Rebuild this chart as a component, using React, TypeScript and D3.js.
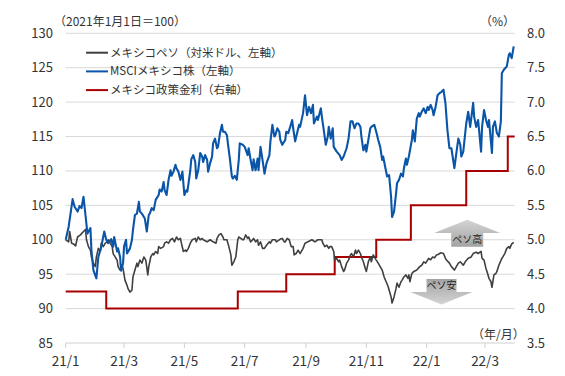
import React from "react";
import * as d3 from "d3";

// メキシコペソ（対米ドル）指数 2021/1/1=100
const pesoSeries: [string, number][] = [
  ["2021-01-01",100],["2021-01-04",99.7],["2021-01-05",101.2],["2021-01-07",99.5],["2021-01-09",99.4],["2021-01-11",99.1],
  ["2021-01-13",100.4],["2021-01-16",100.7],["2021-01-17",100.9],["2021-01-19",101.2],["2021-01-21",101.5],["2021-01-22",100],
  ["2021-01-24",99.0],["2021-01-26",98.5],["2021-01-27",97.5],["2021-01-29",96.6],["2021-01-31",96.1],["2021-02-01",97.5],
  ["2021-02-03",98.75],["2021-02-05",98.3],["2021-02-06",99.5],["2021-02-08",99.0],["2021-02-10",99.5],["2021-02-12",99.7],
  ["2021-02-13",100],["2021-02-15",99.5],["2021-02-17",99.0],["2021-02-18",98.0],["2021-02-20",97.5],["2021-02-22",97.05],
  ["2021-02-23",96.1],["2021-02-25",95.6],["2021-02-27",96.3],["2021-02-28",95.8],["2021-03-02",94.1],["2021-03-04",93.4],
  ["2021-03-05",92.9],["2021-03-07",92.4],["2021-03-09",92.7],["2021-03-10",94.6],["2021-03-12",95.6],["2021-03-14",96.6],
  ["2021-03-15",96.1],["2021-03-17",97.05],["2021-03-19",96.6],["2021-03-21",97.5],["2021-03-23",97.05],["2021-03-25",94.9],
  ["2021-03-26",96.1],["2021-03-28",97.5],["2021-03-30",98.0],["2021-03-31",97.8],["2021-04-02",98.3],["2021-04-04",98.0],
  ["2021-04-05",99.0],["2021-04-07",98.75],["2021-04-10",99.0],["2021-04-11",99.5],["2021-04-13",99.7],["2021-04-15",99.5],
  ["2021-04-17",100],["2021-04-19",100.2],["2021-04-21",99.7],["2021-04-23",100.4],["2021-04-25",100],["2021-04-27",100.2],
  ["2021-04-28",99.5],["2021-04-30",98.3],["2021-05-02",98.5],["2021-05-03",98.3],["2021-05-05",98.75],["2021-05-07",99.5],
  ["2021-05-09",100],["2021-05-12",100.2],["2021-05-13",99.7],["2021-05-15",100.4],["2021-05-17",100],["2021-05-19",100.2],
  ["2021-05-20",100],["2021-05-24",99.7],["2021-05-27",100],["2021-05-30",99.7],["2021-06-02",99.5],["2021-06-03",100.2],
  ["2021-06-05",100.7],["2021-06-07",100.9],["2021-06-09",100.4],["2021-06-10",100],["2021-06-13",100],["2021-06-15",99.0],
  ["2021-06-17",97.8],["2021-06-18",96.3],["2021-06-20",96.8],["2021-06-22",97.5],["2021-06-24",100],["2021-06-25",100.4],
  ["2021-06-27",100.2],["2021-06-29",100],["2021-06-30",100],["2021-07-02",100.7],["2021-07-04",100.2],["2021-07-05",100.4],
  ["2021-07-07",99.7],["2021-07-09",100],["2021-07-10",100.2],["2021-07-12",99.7],["2021-07-14",100],["2021-07-15",99.2],
  ["2021-07-17",99.7],["2021-07-19",98.75],["2021-07-21",98.75],["2021-07-23",99.2],["2021-07-26",99.7],["2021-07-27",99.5],
  ["2021-07-29",100],["2021-08-01",100],["2021-08-02",99.7],["2021-08-06",100.1],["2021-08-08",100.2],["2021-08-10",99.7],
  ["2021-08-11",99.7],["2021-08-13",100.2],["2021-08-15",100],["2021-08-17",99.0],["2021-08-19",99.0],["2021-08-20",97.8],
  ["2021-08-22",98.0],["2021-08-24",98.5],["2021-08-26",98.0],["2021-08-29",98.75],["2021-08-31",99.5],["2021-09-03",99.7],
  ["2021-09-07",100],["2021-09-10",99.7],["2021-09-13",100],["2021-09-17",100],["2021-09-18",99.5],["2021-09-20",99.0],
  ["2021-09-22",99.2],["2021-09-24",98.75],["2021-09-25",99.0],["2021-09-27",99.0],["2021-09-29",98.3],["2021-09-30",97.05],
  ["2021-10-02",97.3],["2021-10-04",96.8],["2021-10-05",97.05],["2021-10-07",96.1],["2021-10-09",95.4],["2021-10-10",95.6],
  ["2021-10-12",96.6],["2021-10-14",97.05],["2021-10-16",97.8],["2021-10-17",98.0],["2021-10-19",97.5],["2021-10-21",98.5],
  ["2021-10-22",98.0],["2021-10-24",98.5],["2021-10-26",98.0],["2021-10-27",97.5],["2021-10-29",96.8],["2021-10-31",95.8],
  ["2021-11-01",95.4],["2021-11-03",96.8],["2021-11-05",97.5],["2021-11-06",96.8],["2021-11-08",97.8],["2021-11-11",97.05],
  ["2021-11-13",96.6],["2021-11-15",96.1],["2021-11-17",95.6],["2021-11-19",94.6],["2021-11-21",93.9],["2021-11-23",93.2],
  ["2021-11-24",92.7],["2021-11-26",91.7],["2021-11-27",90.8],["2021-11-29",91.7],["2021-12-01",92.9],["2021-12-02",93.7],
  ["2021-12-04",93.1],["2021-12-06",93.9],["2021-12-07",94.1],["2021-12-09",94.6],["2021-12-11",94.9],["2021-12-13",94.4],
  ["2021-12-14",94.9],["2021-12-15",93.9],["2021-12-17",95.1],["2021-12-19",95.4],["2021-12-22",95.6],["2021-12-25",96.1],
  ["2021-12-27",96.3],["2021-12-29",96.8],["2021-12-31",96.6],["2022-01-03",97.3],["2022-01-05",97.1],["2022-01-07",97.5],
  ["2022-01-09",97.4],["2022-01-11",97.8],["2022-01-13",97.9],["2022-01-15",98.1],["2022-01-18",98.0],["2022-01-20",97.3],
  ["2022-01-21",97.05],["2022-01-24",96.6],["2022-01-26",96.1],["2022-01-29",95.6],["2022-01-31",96.1],["2022-02-02",96.6],
  ["2022-02-04",96.8],["2022-02-07",96.3],["2022-02-09",96.8],["2022-02-12",97.3],["2022-02-15",97.5],["2022-02-17",98.0],
  ["2022-02-20",98.2],["2022-02-22",98.0],["2022-02-25",98.3],["2022-02-26",97.3],["2022-02-28",97.05],["2022-03-02",95.8],
  ["2022-03-03",95.4],["2022-03-05",94.4],["2022-03-07",93.9],["2022-03-08",93.1],["2022-03-10",94.9],["2022-03-12",95.1],
  ["2022-03-13",95.4],["2022-03-15",96.3],["2022-03-18",97.3],["2022-03-19",97.5],["2022-03-21",98.0],["2022-03-23",98.75],
  ["2022-03-25",99.0],["2022-03-26",98.75],["2022-03-28",99.4],["2022-03-30",99.6],
];

// MSCIメキシコ株 指数 2021/1/1=100
const msciSeries: [string, number][] = [
  ["2021-01-01",100],["2021-01-04",101.9],["2021-01-08",105.9],["2021-01-10",104.8],["2021-01-13",104.1],["2021-01-15",104.9],
  ["2021-01-17",104.6],["2021-01-19",106.25],["2021-01-21",103.6],["2021-01-23",100.9],["2021-01-26",101.7],["2021-01-27",98.5],
  ["2021-01-29",95.6],["2021-02-01",94.4],["2021-02-03",97.5],["2021-02-05",98.5],["2021-02-06",99.0],["2021-02-09",101.2],
  ["2021-02-11",100],["2021-02-13",99.5],["2021-02-16",100.1],["2021-02-18",99.0],["2021-02-19",100.4],["2021-02-22",98.3],
  ["2021-02-23",98.75],["2021-02-25",97.5],["2021-02-26",95.5],["2021-02-28",96.6],["2021-03-01",99.0],["2021-03-03",100],
  ["2021-03-04",98.0],["2021-03-07",98.75],["2021-03-09",100],["2021-03-10",101.4],["2021-03-12",103.6],["2021-03-14",103.8],
  ["2021-03-16",105.5],["2021-03-17",104.1],["2021-03-19",103.8],["2021-03-22",103.1],["2021-03-24",101.2],["2021-03-26",103.6],
  ["2021-03-27",103.8],["2021-03-29",104.6],["2021-03-31",104.3],["2021-04-02",105.8],["2021-04-05",106.5],["2021-04-06",107.3],
  ["2021-04-08",107.0],["2021-04-10",108.4],["2021-04-11",107.2],["2021-04-13",106.5],["2021-04-15",108.7],["2021-04-17",110.1],
  ["2021-04-18",109.3],["2021-04-20",109.9],["2021-04-22",110.9],["2021-04-23",110.4],["2021-04-25",109.9],["2021-04-27",108.7],
  ["2021-04-29",109.9],["2021-05-01",106.5],["2021-05-03",107.2],["2021-05-04",107.0],["2021-05-07",110.1],["2021-05-08",111.7],
  ["2021-05-10",112.3],["2021-05-12",111.3],["2021-05-13",108.9],["2021-05-15",110.1],["2021-05-17",112.6],["2021-05-19",112.1],
  ["2021-05-20",111.3],["2021-05-22",112.3],["2021-05-24",111.6],["2021-05-25",109.9],["2021-05-27",111.1],["2021-05-29",112.1],
  ["2021-05-30",114.0],["2021-06-01",114.7],["2021-06-03",113.3],["2021-06-04",113.5],["2021-06-06",115.5],["2021-06-08",116.7],
  ["2021-06-09",115.7],["2021-06-11",115.7],["2021-06-13",115.2],["2021-06-14",114.0],["2021-06-16",111.8],["2021-06-18",109.2],
  ["2021-06-19",108.9],["2021-06-21",109.3],["2021-06-23",108.7],["2021-06-25",111.6],["2021-06-26",114.0],["2021-06-29",113.8],
  ["2021-07-01",113.5],["2021-07-04",112.3],["2021-07-05",113.3],["2021-07-07",111.6],["2021-07-09",110.1],["2021-07-10",111.7],
  ["2021-07-12",110.1],["2021-07-14",111.8],["2021-07-15",110.1],["2021-07-17",113.5],["2021-07-19",111.6],["2021-07-21",109.6],
  ["2021-07-23",111.1],["2021-07-26",112.3],["2021-07-27",114.3],["2021-07-29",116.7],["2021-07-31",115.0],["2021-08-01",115.2],
  ["2021-08-03",116.2],["2021-08-05",115.7],["2021-08-06",114.5],["2021-08-08",113.8],["2021-08-11",114.5],["2021-08-12",115.7],
  ["2021-08-14",115.5],["2021-08-16",116.4],["2021-08-18",117.4],["2021-08-19",116.2],["2021-08-21",114.3],["2021-08-23",115.5],
  ["2021-08-25",116.7],["2021-08-26",116.4],["2021-08-29",118.4],["2021-08-31",121.0],["2021-09-02",118.1],["2021-09-04",119.3],
  ["2021-09-06",118.4],["2021-09-08",119.6],["2021-09-09",116.9],["2021-09-12",117.9],["2021-09-13",117.4],["2021-09-16",119.1],
  ["2021-09-17",117.9],["2021-09-19",115.9],["2021-09-21",113.8],["2021-09-23",115.0],["2021-09-24",116.4],["2021-09-26",114.7],
  ["2021-09-28",116.2],["2021-09-29",113.5],["2021-10-02",112.8],["2021-10-05",112.3],["2021-10-07",111.6],["2021-10-09",112.1],
  ["2021-10-12",113.3],["2021-10-14",114.7],["2021-10-16",117.2],["2021-10-18",117.2],["2021-10-20",116.2],["2021-10-22",116.9],
  ["2021-10-24",116.9],["2021-10-26",116.4],["2021-10-27",115.0],["2021-10-29",113.0],["2021-10-31",113.8],["2021-11-01",112.8],
  ["2021-11-05",116.2],["2021-11-06",116.4],["2021-11-09",116.7],["2021-11-11",115.7],["2021-11-13",114.5],["2021-11-15",113.5],
  ["2021-11-17",111.6],["2021-11-18",112.1],["2021-11-20",110.6],["2021-11-22",109.2],["2021-11-24",109.4],["2021-11-26",106.25],
  ["2021-11-27",103.3],["2021-11-29",104.1],["2021-12-01",106.7],["2021-12-02",108.2],["2021-12-04",108.7],["2021-12-06",109.6],
  ["2021-12-08",109.2],["2021-12-09",110.4],["2021-12-11",111.8],["2021-12-12",110.9],["2021-12-14",112.1],["2021-12-17",114.5],
  ["2021-12-18",115.9],["2021-12-20",114.3],["2021-12-22",117.6],["2021-12-24",118.4],["2021-12-25",117.9],["2021-12-27",118.6],
  ["2021-12-29",119.1],["2021-12-31",118.4],["2022-01-02",119.3],["2022-01-03",118.85],["2022-01-05",119.6],["2022-01-07",118.85],
  ["2022-01-08",118.1],["2022-01-10",119.3],["2022-01-12",121.0],["2022-01-14",121.3],["2022-01-16",121.5],["2022-01-18",121.8],
  ["2022-01-20",119.8],["2022-01-22",115.9],["2022-01-24",113.3],["2022-01-26",113.3],["2022-01-29",110.4],["2022-01-31",112.6],
  ["2022-02-02",114.7],["2022-02-04",113.8],["2022-02-05",112.1],["2022-02-07",112.8],["2022-02-10",116.9],["2022-02-12",118.6],
  ["2022-02-14",116.4],["2022-02-17",119.9],["2022-02-18",117.9],["2022-02-20",116.4],["2022-02-22",117.4],["2022-02-23",115.9],
  ["2022-02-25",112.8],["2022-02-26",116.4],["2022-02-28",118.85],["2022-03-02",117.4],["2022-03-04",116.4],["2022-03-05",117.4],
  ["2022-03-08",112.6],["2022-03-09",116.4],["2022-03-11",117.2],["2022-03-13",115.5],["2022-03-15",115.0],["2022-03-17",117.2],
  ["2022-03-18",124.2],["2022-03-20",124.7],["2022-03-23",125.2],["2022-03-25",126.8],["2022-03-26",127.1],["2022-03-28",126.4],
  ["2022-03-30",128.1],
];

// メキシコ政策金利（%）
const policyRate: [string, number][] = [
  ["2021-01-01",4.25],["2021-02-11",4.0],["2021-06-24",4.25],["2021-08-12",4.5],["2021-09-30",4.75],
  ["2021-11-11",5.0],["2021-12-16",5.5],["2022-02-10",6.0],["2022-03-24",6.5],["2022-03-31",6.5],
];

const leftTicks = [85, 90, 95, 100, 105, 110, 115, 120, 125, 130];
const rightTicks = [3.5, 4.0, 4.5, 5.0, 5.5, 6.0, 6.5, 7.0, 7.5, 8.0];
const xTickDates = ["2021-01-01","2021-03-01","2021-05-01","2021-07-01","2021-09-01","2021-11-01","2022-01-01","2022-03-01"];
const xTickLabels = ["21/1","21/3","21/5","21/7","21/9","21/11","22/1","22/3"];
const legendLabels = ["メキシコペソ（対米ドル、左軸）","MSCIメキシコ株（左軸）","メキシコ政策金利（右軸）"];
const domainStart = "2021-01-01";
const domainEnd = "2022-03-31";
// annotation arrows: [center date, tip value, head-base value, body-end value, label]
const arrowUp: [string, number, number, number, string] = ["2022-02-11", 102.9, 101.0, 99.0, "ペソ高"];
const arrowDown: [string, number, number, number, string] = ["2022-01-16", 90.6, 92.4, 94.3, "ペソ安"];

const parse = d3.timeParse("%Y-%m-%d");
const FONT = "'Noto Sans CJK JP', 'Noto Sans', sans-serif";
const W = 565, H = 376;
const left = 65.7, right = 514.7, top = 33.3, bottom = 343;

export default function App() {
  const x = d3.scaleTime().domain([parse(domainStart)!, parse(domainEnd)!]).range([left, right]);
  const yL = d3.scaleLinear().domain([85, 130]).range([bottom, top]);
  const yR = d3.scaleLinear().domain([3.5, 8]).range([bottom, top]);

  const lineL = d3.line<[string, number]>().x(d => x(parse(d[0])!)).y(d => yL(d[1]));
  const lineR = d3.line<[string, number]>().x(d => x(parse(d[0])!)).y(d => yR(d[1])).curve(d3.curveStepAfter);

  const colors = ["#404040", "#0a55a8", "#a80000"];
  const widths = [1.6, 2.1, 2];

  const upX = x(parse(arrowUp[0])!);
  const dnX = x(parse(arrowDown[0])!);

  const upPath = `M${upX},${yL(arrowUp[1])} L${upX + 33},${yL(arrowUp[2])} L${upX + 16},${yL(arrowUp[2])} L${upX + 16},${yL(arrowUp[3])} L${upX - 16},${yL(arrowUp[3])} L${upX - 16},${yL(arrowUp[2])} L${upX - 33},${yL(arrowUp[2])} Z`;
  const dnPath = `M${dnX},${yL(arrowDown[1])} L${dnX + 31},${yL(arrowDown[2])} L${dnX + 15},${yL(arrowDown[2])} L${dnX + 15},${yL(arrowDown[3])} L${dnX - 15},${yL(arrowDown[3])} L${dnX - 15},${yL(arrowDown[2])} L${dnX - 31},${yL(arrowDown[2])} Z`;

  return (
    <svg width={W} height={H} style={{ position: "absolute", left: 0, top: 0, background: "#fff" }} fontFamily={FONT}>
      <defs>
        <linearGradient id="gUp" x1="0" y1="0" x2="0" y2="1">
          <stop offset="0" stopColor="#d4d4d4" />
          <stop offset="1" stopColor="#a3a3a3" />
        </linearGradient>
        <linearGradient id="gDn" x1="0" y1="0" x2="0" y2="1">
          <stop offset="0" stopColor="#a3a3a3" />
          <stop offset="1" stopColor="#d4d4d4" />
        </linearGradient>
      </defs>
      {leftTicks.slice(1).map(t => (
        <line key={t} x1={left} x2={right} y1={yL(t)} y2={yL(t)} stroke="#d9d9d9" strokeWidth={1} />
      ))}
      <line x1={left} x2={right} y1={bottom} y2={bottom} stroke="#d0d0d0" strokeWidth={1} />
      {xTickDates.map(d => (
        <line key={d} x1={x(parse(d)!)} x2={x(parse(d)!)} y1={bottom} y2={bottom + 5} stroke="#d0d0d0" strokeWidth={1} />
      ))}
      {xTickDates.map((d, i) => (
        <text key={d} x={x(parse(d)!)} y={366} textAnchor="middle" fontSize={13.5} fill="#333">{xTickLabels[i]}</text>
      ))}
      {leftTicks.map(t => (
        <text key={t} x={53} y={yL(t) + 4.5} textAnchor="end" fontSize={13} fill="#333">{t}</text>
      ))}
      {rightTicks.map(t => (
        <text key={t} x={527} y={yR(t) + 4.5} textAnchor="start" fontSize={13} fill="#333">{t.toFixed(1)}</text>
      ))}
      <text x={54} y={26} fontSize={12} fill="#333">（2021年1月1日＝100）</text>
      <text x={480} y={26} fontSize={12} fill="#333">（%）</text>
      <text x={472} y={339} fontSize={12} fill="#333">（年/月）</text>

      <path d={upPath} fill="url(#gUp)" />
      <path d={dnPath} fill="url(#gDn)" />
      <text x={upX} y={(yL(arrowUp[2]) + yL(arrowUp[3])) / 2 + 3.5} textAnchor="middle" fontSize={10} fill="#222">{arrowUp[4]}</text>
      <text x={dnX} y={(yL(arrowDown[2]) + yL(arrowDown[3])) / 2 + 3.5} textAnchor="middle" fontSize={10} fill="#222">{arrowDown[4]}</text>

      <path d={lineR(policyRate)!} fill="none" stroke={colors[2]} strokeWidth={widths[2]} />
      <path d={lineL(pesoSeries)!} fill="none" stroke={colors[0]} strokeWidth={widths[0]} strokeLinejoin="round" />
      <path d={lineL(msciSeries)!} fill="none" stroke={colors[1]} strokeWidth={widths[1]} strokeLinejoin="round" />

      {legendLabels.map((lab, i) => (
        <g key={lab} transform={`translate(86,${52.7 + i * 18.7})`}>
          <line x1={0} x2={22} y1={0} y2={0} stroke={colors[i]} strokeWidth={2} />
          <text x={24} y={4} fontSize={11.5} fill="#333">{lab}</text>
        </g>
      ))}
    </svg>
  );
}
